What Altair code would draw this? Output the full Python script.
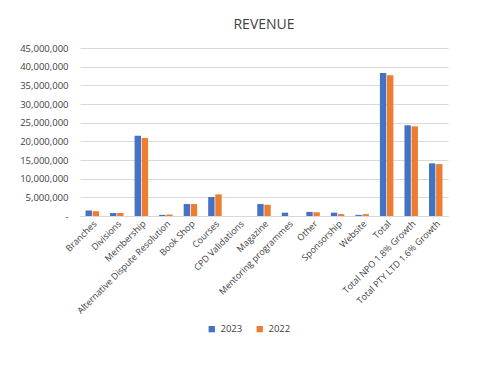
import altair as alt
import pandas as pd

categories = ["Branches", "Divisions", "Membership", "Alternative Dispute Resolution",
              "Book Shop", "Courses", "CPD Validations", "Magazine", "Mentoring programmes",
              "Other", "Sponsorship", "Website", "Total", "Total NPO 1.8% Growth",
              "Total PTY LTD 1.6% Growth"]
v2023 = [1500000, 800000, 21500000, 300000, 3200000, 5100000, 0, 3200000, 900000,
         1100000, 900000, 300000, 38300000, 24300000, 14100000]
v2022 = [1250000, 800000, 20900000, 400000, 3200000, 5800000, 0, 3000000, 0,
         1000000, 500000, 500000, 37700000, 24000000, 13900000]
years = ["2023", "2022"]
colors = ["#4472C4", "#ED7D31"]

rows = []
for c, a, b in zip(categories, v2023, v2022):
    rows.append({"cat": c, "year": "2023", "val": a})
    rows.append({"cat": c, "year": "2022", "val": b})
df = pd.DataFrame(rows)

font = "Open Sans"
chart = alt.Chart(df).mark_bar().encode(
    x=alt.X("cat:N", sort=categories, title=None,
            scale=alt.Scale(paddingInner=0.45, paddingOuter=0.225),
            axis=alt.Axis(labelAngle=-45, labelFontSize=9, labelColor="#404040",
                          labelFont=font, ticks=False, domainColor="#d9d9d9",
                          labelPadding=3, labelLimit=200)),
    xOffset=alt.XOffset("year:N", sort=years, scale=alt.Scale(paddingInner=0.1)),
    y=alt.Y("val:Q", title=None,
            scale=alt.Scale(domain=[0, 45000000], nice=False),
            axis=alt.Axis(values=list(range(0, 45000001, 5000000)),
                          labelExpr="datum.value == 0 ? '-' : format(datum.value, ',')",
                          labelFontSize=9.5, labelColor="#404040", labelFont=font,
                          domain=False, ticks=False, gridColor="#d9d9d9",
                          labelPadding=12)),
    color=alt.Color("year:N", sort=years,
                    scale=alt.Scale(domain=years, range=colors),
                    legend=alt.Legend(title=None, orient="none", direction="horizontal",
                                      legendX=127, legendY=276, symbolType="square",
                                      symbolSize=40, labelFontSize=9.5, labelFont=font,
                                      labelColor="#404040", columnPadding=12)),
).properties(
    width=368, height=168,
    title=alt.TitleParams("REVENUE", fontSize=14, font=font, fontWeight="normal",
                          color="#404040", offset=11),
    autosize="none",
    padding={"left": 72, "top": 40, "right": 23, "bottom": 144},
).configure_view(stroke=None)

chart.save("out.html", embed_options={"renderer": "svg", "actions": False})
